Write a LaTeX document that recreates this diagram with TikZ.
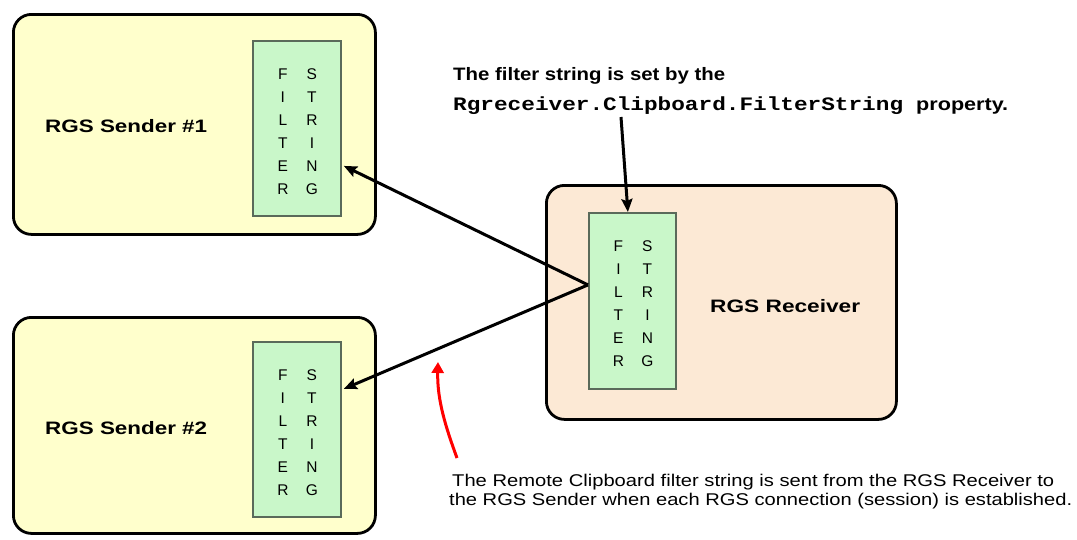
\documentclass[tikz,border=0pt]{standalone}
\usepackage{fontspec}
\setmainfont{Liberation Sans}
\setmonofont{Liberation Mono}
\usetikzlibrary{arrows.meta}
\definecolor{sendfill}{HTML}{FFFFCC}
\definecolor{recvfill}{HTML}{FCE9D5}
\definecolor{fsfill}{HTML}{C9F7C9}
\definecolor{fsdraw}{HTML}{5A6A5A}
\newcommand\wfit[2]{\resizebox{#1}{\height}{#2}}
\tikzset{
  hostbox/.style={draw=black, line width=2.8pt, rounded corners=18pt, inner sep=0pt, anchor=north west},
  fsbox/.style={draw=fsdraw, fill=fsfill, line width=1.8pt, inner sep=0pt, anchor=north west},
  fsl/.style={inner sep=0pt, font=\fontsize{15.5}{15.5}\selectfont},
  boxlabel/.style={inner sep=0pt, anchor=base west, font=\fontsize{18}{20}\selectfont\bfseries},
  note/.style={inner sep=0pt, anchor=base west, font=\fontsize{17}{19}\selectfont},
  arr/.style={line width=3pt, -{Stealth[length=13pt,width=11pt,inset=2pt]}},
  redarr/.style={red, line width=3pt, -{Triangle[length=11pt,width=12pt]}}
}
\newcommand\fsletters[1]{%
  \foreach \c [count=\i from 0] in {F,I,L,T,E,R}
    {\node[fsl, xshift=-14pt, yshift={-34pt-23pt*\i}] (#1a\i) at (#1.north) {\c};}
  \foreach \c [count=\i from 0] in {S,T,R,I,N,G}
    {\node[fsl, xshift=15pt, yshift={-34pt-23pt*\i}] (#1b\i) at (#1.north) {\c};}
}
\begin{document}
\begin{tikzpicture}[x=1pt,y=-1pt]
\useasboundingbox[fill=white] (0,0) rectangle (1077,539);

% host boxes
\node[hostbox, fill=sendfill, minimum width=362pt, minimum height=220pt] (s1) at (12,13) {};
\node[hostbox, fill=sendfill, minimum width=362pt, minimum height=216pt] (s2) at (12,316) {};
\node[hostbox, fill=recvfill, minimum width=350pt, minimum height=234pt] (rc) at (545,184) {};

% filter string boxes
\node[fsbox, minimum width=88pt, minimum height=175pt] (s1fs) at (252,40) {};
\node[fsbox, minimum width=88pt, minimum height=175pt] (s2fs) at (252,341) {};
\node[fsbox, minimum width=87pt, minimum height=176pt] (rcfs) at (588,212) {};
\fsletters{s1fs}
\fsletters{s2fs}
\fsletters{rcfs}

% labels
\node[boxlabel] (l1) at (45,132) {\wfit{162pt}{RGS Sender \#1}};
\node[boxlabel] (l2) at (45,434) {\wfit{162pt}{RGS Sender \#2}};
\node[boxlabel] (l3) at (710,312) {\wfit{150pt}{RGS Receiver}};

% top note
\node[boxlabel] (t1) at (453,80) {\wfit{272pt}{The filter string is set by the}};
\node[inner sep=0pt, anchor=base west, font=\fontsize{19}{20}\selectfont\ttfamily\bfseries] (t2) at (453,110) {\wfit{450pt}{Rgreceiver.Clipboard.FilterString}};
\node[boxlabel] (t3) at (916,110) {\wfit{92pt}{property.}};

% bottom note
\node[note] (b1) at (452,486) {\wfit{602pt}{The Remote Clipboard filter string is sent from the RGS Receiver to}};
\node[note] (b2) at (449,505) {\wfit{623pt}{the RGS Sender when each RGS connection (session) is established.}};

% connectors
\coordinate (tstart) at (621,117);
\draw[arr] (tstart) -- ([xshift=-4.5pt]rcfs.north);
\draw[arr] ([yshift=16pt]rcfs.west) -- ([xshift=2pt,yshift=-37.5pt]s1fs.east);
\draw[arr] ([yshift=16pt]rcfs.west) -- ([xshift=2pt,yshift=40.5pt]s2fs.east);

\coordinate (rtail) at (457,458);
\coordinate (rtip) at (438,362);
\draw[redarr] (rtail) .. controls (446,428) and (437,400) .. (rtip);
\end{tikzpicture}
\end{document}
